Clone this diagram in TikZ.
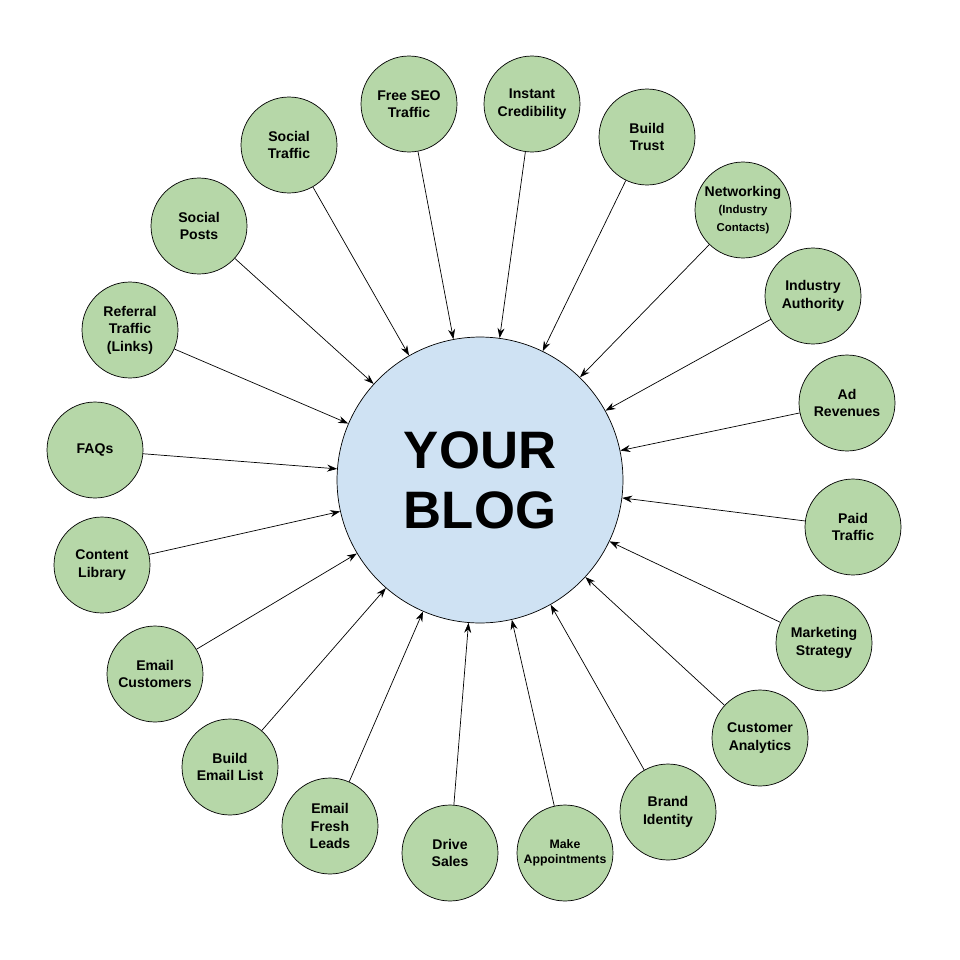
\documentclass[tikz,border=0pt]{standalone}
\usepackage{fontspec}
\setmainfont{Liberation Sans}
\usetikzlibrary{arrows.meta}
\definecolor{blogBlue}{HTML}{CFE2F3}
\definecolor{leafGreen}{HTML}{B6D7A8}
\begin{document}
\begin{tikzpicture}[x=0.02cm, y=-0.02cm,
circBlog/.style={circle, draw=black, fill=blogBlue, minimum size=5.72cm, inner sep=0pt, align=center, font=\fontsize{30}{34}\selectfont\bfseries},
circLeaf/.style={circle, draw=black, fill=leafGreen, minimum size=1.92cm, inner sep=0pt, align=center, font=\fontsize{8}{10}\selectfont\bfseries},
circLeafSmall/.style={circLeaf, font=\fontsize{7}{8.5}\selectfont\bfseries},
arr/.style={-{Stealth[length=2mm, width=1.4mm]}, thin}
]
\useasboundingbox (0,0) rectangle (960,960);

\node[circBlog] (blog) at (480, 480) {YOUR\\BLOG};

\node[circLeaf] (seo) at (409, 104) {Free SEO\\Traffic};
\node[circLeaf] (cred) at (532, 104) {Instant\\Credibility};
\node[circLeaf] (trust) at (647, 137) {Build\\Trust};
\node[circLeaf] (network) at (743, 210) {Networking\\{\fontsize{6.5}{8}\selectfont(Industry}\\{\fontsize{6.5}{8}\selectfont Contacts)}};
\node[circLeaf] (authority) at (813, 296) {Industry\\Authority};
\node[circLeaf] (adrev) at (847, 403) {Ad\\Revenues};
\node[circLeaf] (paid) at (853, 527) {Paid\\Traffic};
\node[circLeaf] (marketing) at (824, 643) {Marketing\\Strategy};
\node[circLeaf] (analytics) at (760, 738) {Customer\\Analytics};
\node[circLeaf] (brand) at (668, 812) {Brand\\Identity};
\node[circLeafSmall] (appoint) at (565, 853) {Make\\Appointments};
\node[circLeaf] (sales) at (450, 853) {Drive\\Sales};
\node[circLeaf] (leads) at (330, 826) {Email\\Fresh\\Leads};
\node[circLeaf] (emaillist) at (230, 767) {Build\\Email List};
\node[circLeaf] (customers) at (155, 674) {Email\\Customers};
\node[circLeaf] (library) at (102, 565) {Content\\Library};
\node[circLeaf] (faqs) at (95, 450) {FAQs};
\node[circLeaf] (referral) at (130, 330) {Referral\\Traffic\\(Links)};
\node[circLeaf] (posts) at (199, 226) {Social\\Posts};
\node[circLeaf] (social) at (289, 145) {Social\\Traffic};

\foreach \leaf in {seo, cred, trust, network, authority, adrev, paid, marketing, analytics, brand, appoint, sales, leads, emaillist, customers, library, faqs, referral, posts, social}
	\path[arr] (\leaf) edge (blog);

\end{tikzpicture}
\end{document}
